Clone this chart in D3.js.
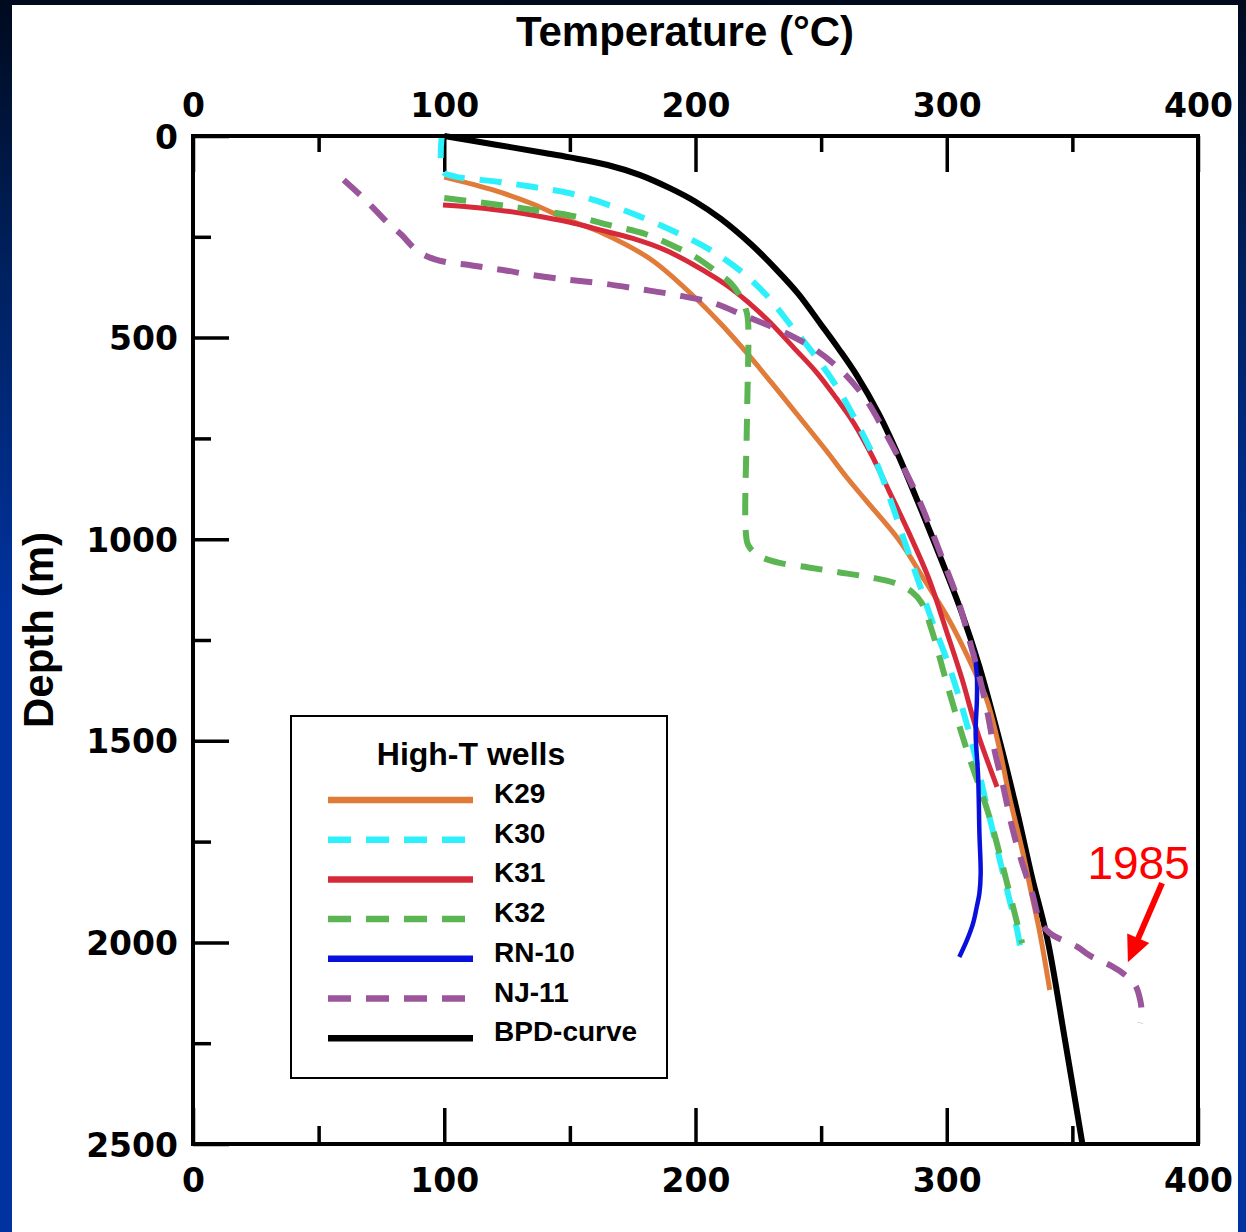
<!DOCTYPE html>
<html><head><meta charset="utf-8">
<script src="https://cdn.jsdelivr.net/npm/d3@7"></script>
<style>html,body{margin:0;padding:0;background:#002a80;} svg{display:block}</style>
</head><body>
<svg id="chart" width="1246" height="1232"></svg>
<script>
// ---------- data ----------
const xTicksMajor = [0, 100, 200, 300, 400];
const xTicksMinor = [50, 150, 250, 350];
const yTicksMajor = [0, 500, 1000, 1500, 2000, 2500];
const yTicksMinor = [250, 750, 1250, 1750, 2250];
const xTitle = "Temperature (°C)";
const yTitle = "Depth (m)";
const legendTitle = "High-T wells";
const seriesNames = ["K29", "K30", "K31", "K32", "RN-10", "NJ-11", "BPD-curve"];

// [temperature °C, depth m]
const k29 = [[100,102],[120,135],[135,168],[150,210],[162,238],[182,305],[198,390],[210,465],[220,535],[230,610],[240,687],[252,780],[260,845],[268,905],[281,1002],[291,1100],[300,1190],[309,1300],[316,1400],[321,1520],[325,1640],[330,1770],[334,1887],[337,1975],[341,2118]];
const k30 = [[99,0],[99.5,88],[104,100],[122,114],[135,126],[150,142],[165,170],[178,200],[193,241],[206,283],[219,340],[229,400],[238,470],[247,540],[257,630],[265,720],[272,810],[278,910],[284,1020],[289,1109],[294,1200],[301,1316],[309,1481],[317,1689],[325,1895],[328,1969],[330,2044]];
const k31 = [[99.5,171],[110,176],[122,184],[136,197],[150,214],[162,233],[175,254],[188,283],[198,315],[207,348],[215,382],[228,452],[240,531],[248,585],[256,650],[263,712],[270,790],[277,880],[285,985],[293,1100],[300,1230],[306,1345],[312,1475],[320,1614]];
const k32 = [[100,154],[122,171],[135,183],[151,198],[165,220],[180,243],[191,272],[200,300],[208,335],[214,365],[218,400],[220.5,440],[221,470],[220.5,700],[220,980],[221,1015],[225,1040],[233,1058],[245,1070],[258,1083],[270,1095],[279,1108],[286,1130],[290,1158],[294,1225],[300,1357],[308,1523],[317,1689],[324,1853],[330,2002]];
const rn10 = [[311,1280],[312,1340],[312,1399],[311.5,1481],[312.5,1590],[313,1729],[313.5,1830],[313,1878],[312,1910],[310.5,1952],[308,1995],[305,2036]];
const nj11 = [[60,109],[66.5,146],[72,180],[77.6,216],[83,245],[88,278],[93,298],[101,313],[110,320],[117,327],[125,334],[133,343],[147,355],[162,365],[178,380],[192,394],[207,414],[220,447],[235,486],[248,531],[259,588],[268,655],[275,730],[281,800],[289,903],[298.5,1052],[304.5,1151],[309,1250],[313,1342],[316,1424],[319,1523],[322.5,1614],[326,1714],[330,1803],[334,1878],[337,1945],[341,1977],[352,2011],[357,2033],[366,2060],[370,2076],[375,2106],[377,2143],[377.5,2170],[377,2200]];
const bpd = [[100,0],[120,21],[140,42],[150,53],[165,72],[178,97],[190,130],[200,163],[210,205],[222,268],[232,330],[241,392],[250,468],[257,528],[264,592],[273,690],[281,796],[290,930],[300,1085],[306,1183],[313,1316],[322,1523],[328,1675],[334,1840],[340,1990],[347,2240],[354,2500]];

const annoLabel = "1985";
const annoTextPos = [356, 1843];
const annoArrow = [[385.7, 1853], [372.1, 2049]];

// ---------- styles ----------
const styles = {
  "K29":       {color: "#e07b39", width: 5, dash: null},
  "K30":       {color: "#2ef0fa", width: 6, dash: "22,15"},
  "K31":       {color: "#d62a3a", width: 5, dash: null},
  "K32":       {color: "#5ab552", width: 6, dash: "22,15"},
  "RN-10":     {color: "#0a10dc", width: 4.5, dash: null},
  "NJ-11":     {color: "#9b559b", width: 6, dash: "22,15"},
  "BPD-curve": {color: "#000000", width: 6, dash: null}
};
const dataByName = {"K29": k29, "K30": k30, "K31": k31, "K32": k32, "RN-10": rn10, "NJ-11": nj11, "BPD-curve": bpd};
const drawOrder = ["BPD-curve", "K29", "K31", "K30", "K32", "RN-10", "NJ-11"];

// ---------- layout ----------
const W = 1246, H = 1232;
const svg = d3.select("#chart");
const defs = svg.append("defs");
const grad = defs.append("linearGradient").attr("id", "bg").attr("x1", 0).attr("y1", 0).attr("x2", 0).attr("y2", 1);
grad.append("stop").attr("offset", "0%").attr("stop-color", "#000a1e");
grad.append("stop").attr("offset", "22%").attr("stop-color", "#00215f");
grad.append("stop").attr("offset", "50%").attr("stop-color", "#0033a0");
grad.append("stop").attr("offset", "100%").attr("stop-color", "#0033a0");
svg.append("rect").attr("width", W).attr("height", H).attr("fill", "url(#bg)");
svg.append("rect").attr("x", 12).attr("y", 5).attr("width", 1226).attr("height", 1227).attr("fill", "#ffffff");

const x = d3.scaleLinear().domain([0, 400]).range([193, 1198]);
const y = d3.scaleLinear().domain([0, 2500]).range([136, 1144]);

const tickFont = "'DejaVu Sans', sans-serif";
const textFont = "'Liberation Sans', Arial, sans-serif";

// axes
function styleAxis(g) {
  g.select(".domain").remove();
  g.selectAll(".tick line").attr("stroke", "#000").attr("stroke-width", 3.5);
  g.selectAll("text").attr("font-family", tickFont).attr("font-weight", "bold").attr("font-size", 33).attr("fill", "#000");
}
const gTop = svg.append("g").attr("transform", `translate(0,${y(0)})`)
  .call(d3.axisTop(x).tickValues(xTicksMajor).tickSize(-36).tickPadding(19).tickFormat(d3.format("d")));
styleAxis(gTop);
const gTopMinor = svg.append("g").attr("transform", `translate(0,${y(0)})`)
  .call(d3.axisTop(x).tickValues(xTicksMinor).tickSize(-16).tickFormat(""));
styleAxis(gTopMinor);

const gBot = svg.append("g").attr("transform", `translate(0,${y(2500)})`)
  .call(d3.axisBottom(x).tickValues(xTicksMajor).tickSize(-36).tickFormat(d3.format("d")));
styleAxis(gBot);
gBot.selectAll("text").attr("y", 48).attr("dy", 0);
const gBotMinor = svg.append("g").attr("transform", `translate(0,${y(2500)})`)
  .call(d3.axisBottom(x).tickValues(xTicksMinor).tickSize(-18).tickFormat(""));
styleAxis(gBotMinor);

const gLeft = svg.append("g").attr("transform", `translate(${x(0)},0)`)
  .call(d3.axisLeft(y).tickValues(yTicksMajor).tickSize(-36).tickFormat(d3.format("d")));
styleAxis(gLeft);
gLeft.selectAll("text").attr("x", -15).attr("dy", 12);
const gLeftMinor = svg.append("g").attr("transform", `translate(${x(0)},0)`)
  .call(d3.axisLeft(y).tickValues(yTicksMinor).tickSize(-18).tickFormat(""));
styleAxis(gLeftMinor);

// curves
const line = d3.line().x(d => x(d[0])).y(d => y(d[1])).curve(d3.curveCatmullRom.alpha(0.5));
const plot = svg.append("g");
drawOrder.forEach(name => {
  const s = styles[name];
  plot.append("path").datum(dataByName[name])
    .attr("d", line).attr("fill", "none")
    .attr("stroke", s.color).attr("stroke-width", s.width)
    .attr("stroke-dasharray", s.dash)
    .attr("stroke-linejoin", "round");
});

// frame
svg.append("rect").attr("x", x(0)).attr("y", y(0)).attr("width", x(400) - x(0)).attr("height", y(2500) - y(0))
  .attr("fill", "none").attr("stroke", "#000").attr("stroke-width", 4);

// titles
svg.append("text").attr("x", 685).attr("y", 46).attr("text-anchor", "middle")
  .attr("font-family", textFont).attr("font-weight", "bold").attr("font-size", 42).text(xTitle);
svg.append("text").attr("transform", "translate(53,630) rotate(-90)").attr("text-anchor", "middle")
  .attr("font-family", textFont).attr("font-weight", "bold").attr("font-size", 42).text(yTitle);

// legend
const lg = svg.append("g");
lg.append("rect").attr("x", 291).attr("y", 716).attr("width", 376).attr("height", 362)
  .attr("fill", "#fff").attr("stroke", "#000").attr("stroke-width", 2);
lg.append("text").attr("x", 471).attr("y", 765).attr("text-anchor", "middle")
  .attr("font-family", textFont).attr("font-weight", "bold").attr("font-size", 32).text(legendTitle);
seriesNames.forEach((name, i) => {
  const s = styles[name];
  const yy = 800 + i * 39.7;
  lg.append("line").attr("x1", 328).attr("x2", 473).attr("y1", yy).attr("y2", yy)
    .attr("stroke", s.color).attr("stroke-width", 6.5)
    .attr("stroke-dasharray", s.dash ? "23,15" : null);
  lg.append("text").attr("x", 494).attr("y", yy + 3)
    .attr("font-family", textFont).attr("font-weight", "bold").attr("font-size", 28).text(name);
});

// annotation
svg.append("text").attr("x", x(annoTextPos[0])).attr("y", y(annoTextPos[1]))
  .attr("font-family", textFont).attr("font-size", 46).attr("fill", "#ff0000").text(annoLabel);
const p0 = [x(annoArrow[0][0]), y(annoArrow[0][1])];
const p1 = [x(annoArrow[1][0]), y(annoArrow[1][1])];
const dx = p1[0] - p0[0], dy = p1[1] - p0[1];
const len = Math.hypot(dx, dy), ux = dx / len, uy = dy / len;
const headL = 26, headW = 12;
const base = [p1[0] - ux * headL, p1[1] - uy * headL];
svg.append("line").attr("x1", p0[0]).attr("y1", p0[1]).attr("x2", base[0] + ux * 2).attr("y2", base[1] + uy * 2)
  .attr("stroke", "#ff0000").attr("stroke-width", 6);
svg.append("polygon").attr("fill", "#ff0000")
  .attr("points", [p1, [base[0] - uy * headW, base[1] + ux * headW], [base[0] + uy * headW, base[1] - ux * headW]].map(p => p.join(",")).join(" "));
</script>
</body></html>
